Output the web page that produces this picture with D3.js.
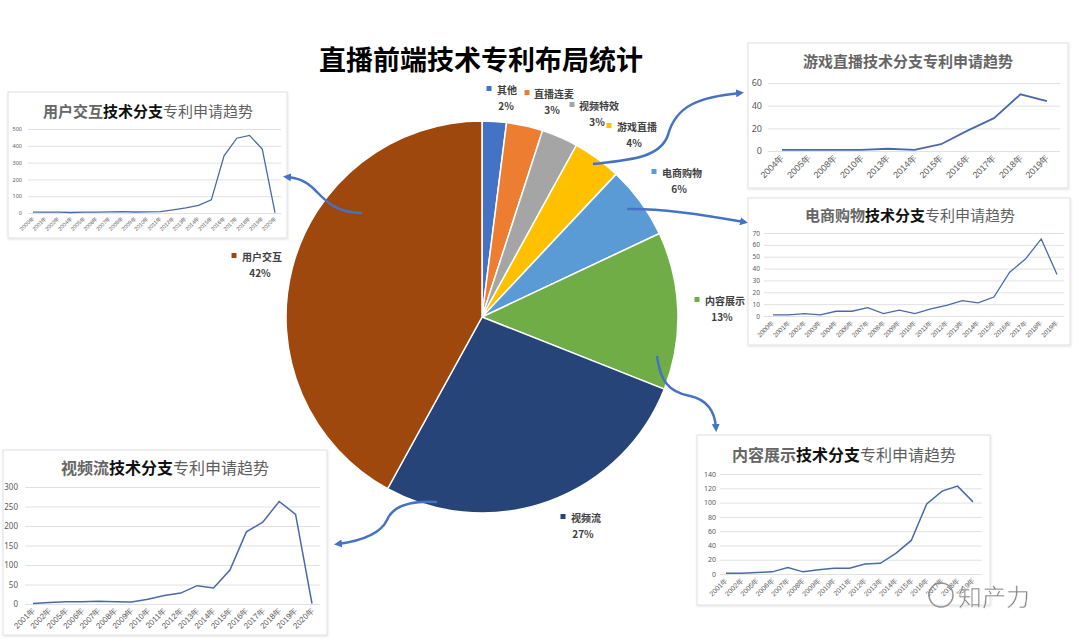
<!DOCTYPE html>
<html><head><meta charset="utf-8">
<script src="https://cdn.jsdelivr.net/npm/d3@7"></script>
<style>body{margin:0;background:#fff;} svg{display:block;font-family:"Noto Sans CJK SC","Noto Sans",sans-serif;}</style>
</head><body><svg id="c" width="1080" height="643"></svg>
<script>
// ---------- data ----------
const pieNames  = ["其他","直播连麦","视频特效","游戏直播","电商购物","内容展示","视频流","用户交互"];
const pieValues = [2,3,3,4,6,13,27,42];
const pieColors = ["#4472C4","#ED7D31","#A5A5A5","#FFC000","#5B9BD5","#70AD47","#264478","#9E480E"];

const userYears  = ["2000年","2001年","2002年","2004年","2005年","2006年","2007年","2008年","2009年","2010年","2011年","2012年","2013年","2014年","2015年","2016年","2017年","2018年","2019年","2020年"];
const userValues = [5,5,5,3,5,5,7,8,6,7,8,18,30,45,78,340,445,462,380,2];
const userTicks  = [0,100,200,300,400,500];

const gameYears  = ["2004年","2005年","2008年","2010年","2013年","2014年","2015年","2016年","2017年","2018年","2019年"];
const gameValues = [1,1,1,1,2,1,6,18,29,50,44];
const gameTicks  = [0,20,40,60];

const shopYears  = ["2000年","2001年","2002年","2003年","2004年","2006年","2007年","2008年","2009年","2010年","2011年","2012年","2013年","2014年","2015年","2016年","2017年","2018年","2019年"];
const shopValues = [1,1,2,1,4,4,7,2,5,2,6,9,13,11,16,37,48,65,35];
const shopTicks  = [0,10,20,30,40,50,60,70];

const contentYears  = ["2001年","2002年","2005年","2006年","2007年","2008年","2009年","2010年","2011年","2012年","2013年","2014年","2015年","2016年","2017年","2018年","2019年"];
const contentValues = [1,1,2,3,9,3,6,8,8,14,15,29,47,98,116,123,101];
const contentTicks  = [0,20,40,60,80,100,120,140];

const streamYears  = ["2001年","2002年","2005年","2006年","2007年","2008年","2009年","2010年","2011年","2012年","2013年","2014年","2015年","2016年","2017年","2018年","2019年","2020年"];
const streamValues = [1,4,6,6,7,6,5,12,22,28,47,41,87,185,210,263,230,1];
const streamTicks  = [0,50,100,150,200,250,300];

// ---------- setup ----------
const svg = d3.select("#c");
const defs = svg.append("defs");
const f = defs.append("filter").attr("id","sh").attr("x","-5%").attr("y","-5%").attr("width","110%").attr("height","115%");
f.append("feDropShadow").attr("dx",0.5).attr("dy",1).attr("stdDeviation",1.2).attr("flood-color","#000").attr("flood-opacity",0.12);
defs.append("marker").attr("id","ah").attr("viewBox","0 0 10 10").attr("refX",5).attr("refY",5)
  .attr("markerWidth",3.2).attr("markerHeight",3.2).attr("orient","auto")
  .append("path").attr("d","M0,0 L10,5 L0,10 Z").attr("fill","#4472C4");

// ---------- title ----------
svg.append("text").attr("x",481).attr("y",70).attr("text-anchor","middle")
  .attr("font-size",27).attr("font-weight",700).attr("fill","#000").text("直播前端技术专利布局统计");

// ---------- pie ----------
const cx = 482, cy = 317, R = 196;
const pie = d3.pie().sort(null).value(d=>d)(pieValues);
const arc = d3.arc().innerRadius(0).outerRadius(R);
const pg = svg.append("g").attr("transform",`translate(${cx},${cy})`);
pg.selectAll("path").data(pie).join("path").attr("d",arc)
  .attr("fill",(d,i)=>pieColors[i]).attr("stroke","#fff").attr("stroke-width",1.5);

// label layout (positions only)
const labelPos = [
  {mx:489,nx:497,y:94, px:506},
  {mx:527,nx:534,y:98, px:552},
  {mx:572,nx:579,y:110,px:597},
  {mx:609,nx:617,y:131,px:634},
  {mx:654,nx:662,y:177,px:679},
  {mx:697,nx:705,y:305,px:722},
  {mx:563,nx:571,y:522,px:583},
  {mx:234,nx:242,y:261,px:260}
];
const lg = svg.append("g");
pieNames.forEach((n,i)=>{
  const p = labelPos[i];
  lg.append("rect").attr("x",p.mx-2.5).attr("y",p.y-8).attr("width",5).attr("height",5).attr("fill",pieColors[i]);
  lg.append("text").attr("x",p.nx).attr("y",p.y).attr("font-size",10).attr("font-weight",700).attr("fill","#404040").text(n);
  lg.append("text").attr("x",p.px).attr("y",p.y+16).attr("text-anchor","middle").attr("font-size",10).attr("font-weight",700).attr("fill","#404040").text(pieValues[i]+"%");
});

// ---------- line charts ----------
function lineChart(o){
  const g = svg.append("g");
  g.append("rect").attr("x",o.box[0]).attr("y",o.box[1]).attr("width",o.box[2]).attr("height",o.box[3])
    .attr("fill","#fff").attr("stroke","#e0e0e0").attr("stroke-width",1).attr("filter","url(#sh)");
  const x = d3.scalePoint().domain(o.cats).range([o.px0,o.px1]).padding(0);
  const y = d3.scaleLinear().domain([0,o.ticks[o.ticks.length-1]]).range([o.py0,o.py1]);
  const ya = g.append("g").attr("transform",`translate(${o.gx0},0)`)
    .call(d3.axisLeft(y).tickValues(o.ticks).tickSize(-(o.gx1-o.gx0)).tickPadding(o.pad).tickSizeOuter(0));
  ya.select(".domain").remove();
  ya.selectAll("line").attr("stroke","#d9d9d9").attr("stroke-width",0.8);
  ya.selectAll("text").attr("font-size",o.yfs).attr("fill","#595959").attr("font-family","'Noto Sans','Noto Sans CJK SC',sans-serif");
  const xa = g.append("g").attr("transform",`translate(0,${o.py0})`)
    .call(d3.axisBottom(x).tickSize(0).tickPadding(0));
  xa.select(".domain").remove();
  xa.selectAll("text").attr("font-size",o.xfs).attr("fill","#595959")
    .attr("text-anchor","end").attr("dy","0.35em")
    .attr("transform",`translate(0,${o.xoff}) rotate(-45)`);
  const line = d3.line().x((d,i)=>x(o.cats[i])).y(d=>y(d));
  g.append("path").datum(o.vals).attr("d",line).attr("fill","none").attr("stroke","#4a69aa").attr("stroke-width",o.lw);
  const t = g.append("text").attr("x",o.tx).attr("y",o.ty).attr("text-anchor","middle").attr("font-size",o.tfs);
  o.title.forEach(p=>t.append("tspan").text(p[0]).attr("fill",p[1]).attr("font-weight",p[2]));
}
const GR="#5f5f5f", GL="#666", BK="#111";

lineChart({box:[8,92,279,146], cats:userYears, vals:userValues, ticks:userTicks,
  px0:33, px1:275, py0:213, py1:129, gx0:28, gx1:281, pad:6, yfs:5.5, xfs:5.5, xoff:4, lw:1.3,
  tx:148, ty:117, tfs:15, title:[["用户交互",GL,700],["技术分支",BK,700],["专利申请趋势",GR,400]]});

lineChart({box:[748,43,320,145], cats:gameYears, vals:gameValues, ticks:gameTicks,
  px0:782, px1:1047, py0:151, py1:83, gx0:768, gx1:1060, pad:6, yfs:9, xfs:9, xoff:5, lw:1.8,
  tx:908, ty:67, tfs:15, title:[["游戏直播技术分支专利申请趋势",GL,700]]});

lineChart({box:[748,198,322,147], cats:shopYears, vals:shopValues, ticks:shopTicks,
  px0:773, px1:1057, py0:316, py1:233, gx0:764, gx1:1064, pad:4, yfs:6.5, xfs:6.5, xoff:5, lw:1.3,
  tx:910, ty:221, tfs:15, title:[["电商购物",GL,700],["技术分支",BK,700],["专利申请趋势",GR,400]]});

lineChart({box:[697,435,293,170], cats:contentYears, vals:contentValues, ticks:contentTicks,
  px0:726, px1:973, py0:574, py1:474, gx0:720, gx1:982, pad:4, yfs:7, xfs:7, xoff:5, lw:1.5,
  tx:844, ty:461, tfs:16, title:[["内容展示",GL,700],["技术分支",BK,700],["专利申请趋势",GR,400]]});

lineChart({box:[3,450,324,185], cats:streamYears, vals:streamValues, ticks:streamTicks,
  px0:33, px1:312, py0:604, py1:487, gx0:25, gx1:320, pad:7, yfs:8, xfs:8, xoff:5, lw:1.5,
  tx:165, ty:474, tfs:16, title:[["视频流",GL,700],["技术分支",BK,700],["专利申请趋势",GR,400]]});

// ---------- connector arrows (annotations) ----------
const arrows = [
  "M593,164 C630,160 660,158 668,135 C676,105 700,97 740,93",
  "M627,209 C660,208 700,214 744,222",
  "M657,356 C660,380 668,392 690,396 C708,400 715,412 716,428",
  "M437,502 C405,500 392,508 387,520 C380,535 360,541 338,544",
  "M362,213 C335,213 325,200 315,190 C305,180 297,178 287,177"
];
svg.append("g").selectAll("path").data(arrows).join("path").attr("d",d=>d)
  .attr("fill","none").attr("stroke","#4472C4").attr("stroke-width",2.5).attr("marker-end","url(#ah)");

// ---------- watermark ----------
const wm = svg.append("g").attr("opacity",0.9);
wm.append("circle").attr("cx",941).attr("cy",595).attr("r",12).attr("fill","none").attr("stroke","#888").attr("stroke-width",1.5);
wm.append("text").attr("x",958).attr("y",606).attr("font-size",24).attr("fill","#7a7a7a").attr("stroke","#fff").attr("stroke-width",0.5).text("知产力");
</script></body></html>
